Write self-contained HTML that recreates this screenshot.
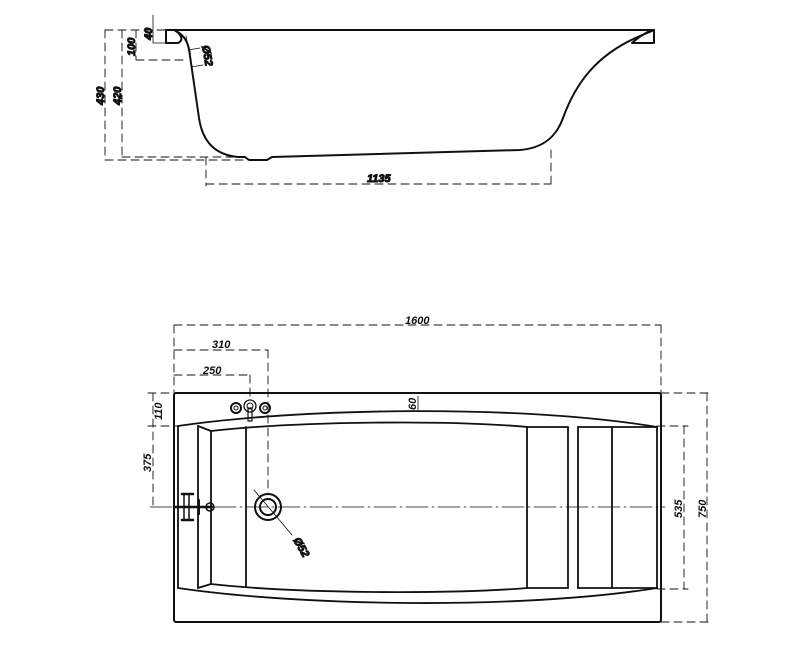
<!DOCTYPE html>
<html><head><meta charset="utf-8"><style>
html,body{margin:0;padding:0;background:#fff;width:800px;height:656px;overflow:hidden}
svg{display:block}
text{font-family:"Liberation Sans",sans-serif;font-size:11px;font-weight:bold;font-style:italic;fill:#111}
</style></head><body>
<svg width="800" height="656" viewBox="0 0 800 656" xmlns="http://www.w3.org/2000/svg">
<g fill="none" stroke="#111" stroke-linecap="round" stroke-linejoin="round">
<!-- SIDE VIEW -->
<g stroke-width="2">
<line x1="166" y1="30" x2="654" y2="30"/>
<path d="M166,30 L166,43 L178,43 C185,40 180,33 174,30"/>
<path d="M654,30 L654,43 L632,43 C640,36 647,32 652,30"/>
<path d="M176,31 C186,36 189,45 190,56 L199,118 C203,145 218,155 238,157 L245,157 L249,160 L267,160 L272,157 L520,150 C545,148 557,135 563,118 C575,85 595,55 640,36 L652,31"/>
</g>
<g stroke-width="0.9" stroke-dasharray="8,5">
<line x1="105" y1="160" x2="250" y2="160"/>
<line x1="122" y1="157" x2="245" y2="157"/>
<line x1="136" y1="60" x2="186" y2="60"/>
<line x1="105" y1="30" x2="166" y2="30"/>
<line x1="105" y1="30" x2="105" y2="160"/>
<line x1="122" y1="30" x2="122" y2="157"/>
<line x1="136" y1="30" x2="136" y2="60"/>
<line x1="206" y1="157" x2="206" y2="186"/>
<line x1="551" y1="150" x2="551" y2="186"/>
<line x1="206" y1="184" x2="551" y2="184"/>
</g>
<g stroke-width="0.8">
<line x1="153" y1="15" x2="153" y2="43"/>
<line x1="153" y1="43" x2="166" y2="43"/>
<line x1="186" y1="36" x2="194" y2="80"/>
<line x1="188" y1="50" x2="200" y2="48"/>
<line x1="191" y1="67" x2="203" y2="65"/>
</g>
<text transform="translate(152,40) rotate(-90)">40</text>
<text transform="translate(135,56) rotate(-90)">100</text>
<text transform="translate(104,105) rotate(-90)">430</text>
<text transform="translate(121,105) rotate(-90)">420</text>
<text transform="translate(202,46) rotate(80)">Ø52</text>
<text x="367" y="182">1135</text>

<!-- TOP VIEW -->
<rect x="174" y="393" width="487" height="229" rx="2" stroke-width="2"/>
<g stroke-width="1.8">
<path d="M178,426 C300,408 520,404 657,427"/>
<path d="M178,588 C300,606 520,610 657,588"/>
<path d="M198,426 L211,431 C300,421 450,420 528,427 L568,427"/>
<path d="M198,588 L211,584 C300,594 450,594 528,588 L568,588"/>
<line x1="178" y1="426" x2="178" y2="588"/>
<line x1="198" y1="426" x2="198" y2="588"/>
<line x1="211" y1="431" x2="211" y2="584"/>
<line x1="246" y1="427" x2="246" y2="587"/>
<line x1="527" y1="427" x2="527" y2="588"/>
<line x1="568" y1="427" x2="568" y2="588"/>
<line x1="578" y1="427" x2="578" y2="588"/>
<line x1="612" y1="427" x2="612" y2="588"/>
<line x1="657" y1="427" x2="657" y2="588"/>
<line x1="578" y1="427" x2="657" y2="427"/>
<line x1="578" y1="588" x2="657" y2="588"/>
</g>
<!-- drain -->
<circle cx="268" cy="507" r="13" stroke-width="2"/>
<circle cx="268" cy="507" r="8" stroke-width="2"/>
<line x1="254" y1="490" x2="292" y2="535" stroke-width="0.8"/>
<text transform="translate(293,540) rotate(60)">Ø52</text>
<!-- taps -->
<circle cx="236" cy="408" r="5" stroke-width="2"/>
<circle cx="236" cy="408" r="2" stroke-width="1"/>
<circle cx="265" cy="408" r="5" stroke-width="2"/>
<circle cx="265" cy="408" r="2" stroke-width="1"/>
<circle cx="250" cy="406" r="6" stroke-width="1.3"/>
<circle cx="250" cy="406" r="3" stroke-width="1"/>
<rect x="248" y="408" width="4" height="13" stroke-width="1.2"/>
<!-- overflow -->
<rect x="184" y="494" width="5" height="26" stroke-width="1.5"/>
<line x1="175" y1="507" x2="212" y2="507" stroke-width="2.5"/>
<line x1="182" y1="494" x2="193" y2="494" stroke-width="2.5"/>
<line x1="182" y1="520" x2="193" y2="520" stroke-width="2.5"/>
<line x1="199" y1="500" x2="199" y2="514" stroke-width="2"/>
<circle cx="210" cy="507" r="4" stroke-width="1.5"/>
<!-- dims -->
<g stroke-width="0.9" stroke-dasharray="8,5">
<line x1="174" y1="325" x2="661" y2="325"/>
<line x1="174" y1="325" x2="174" y2="393"/>
<line x1="661" y1="325" x2="661" y2="393"/>
<line x1="174" y1="350" x2="268" y2="350"/>
<line x1="268" y1="350" x2="268" y2="494"/>
<line x1="174" y1="375" x2="250" y2="375"/>
<line x1="250" y1="375" x2="250" y2="400"/>
<line x1="153" y1="393" x2="153" y2="507"/>
<line x1="148" y1="393" x2="174" y2="393"/>
<line x1="148" y1="426" x2="178" y2="426"/>
<line x1="661" y1="393" x2="712" y2="393"/>
<line x1="661" y1="622" x2="712" y2="622"/>
<line x1="657" y1="426" x2="688" y2="426"/>
<line x1="657" y1="589" x2="688" y2="589"/>
<line x1="684" y1="426" x2="684" y2="589"/>
<line x1="707" y1="393" x2="707" y2="622"/>
</g>
<line x1="150" y1="507" x2="665" y2="507" stroke-width="0.8" stroke-dasharray="22,4,2,4"/>
<line x1="418" y1="396" x2="418" y2="410" stroke-width="0.8"/>
</g>
<text x="405" y="324">1600</text>
<text x="212" y="348">310</text>
<text x="203" y="374">250</text>
<text transform="translate(162,420) rotate(-90)">110</text>
<text transform="translate(151,472) rotate(-90)">375</text>
<text transform="translate(416,410) rotate(-90)">60</text>
<text transform="translate(682,518) rotate(-90)">535</text>
<text transform="translate(706,518) rotate(-90)">750</text>
</svg>
</body></html>
